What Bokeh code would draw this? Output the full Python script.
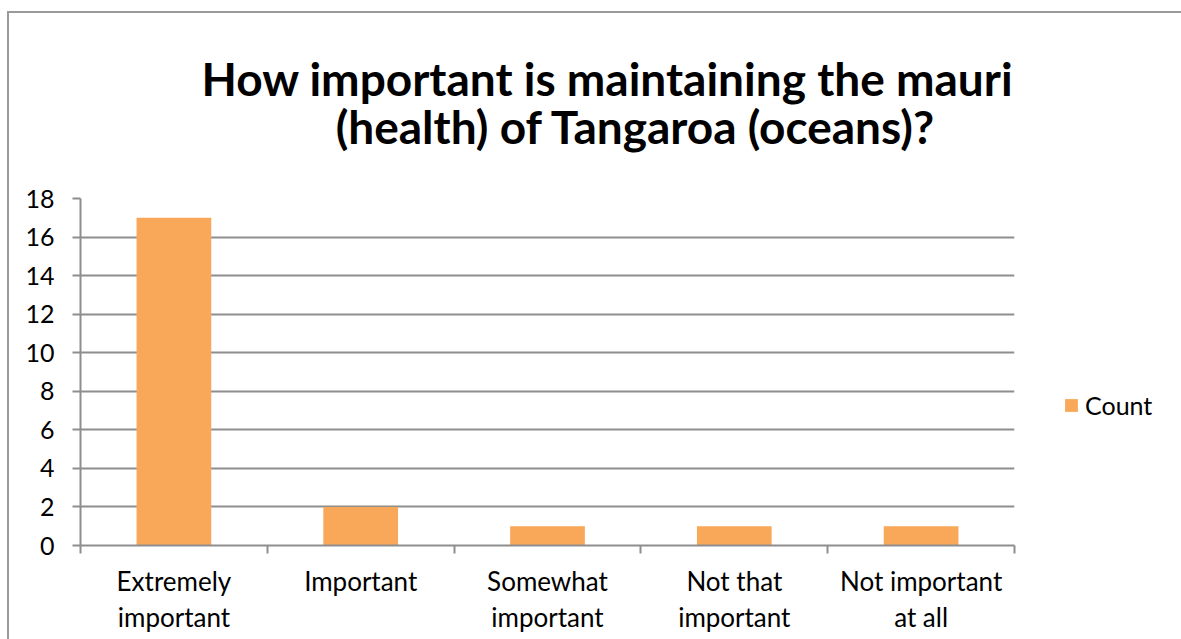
from bokeh.plotting import figure
from bokeh.models import (FactorRange, Range1d, LinearAxis, CategoricalAxis,
                          FixedTicker, Legend, LegendItem, Title)
from bokeh.embed import file_html
from bokeh.resources import INLINE

# ---- data ----
categories = ["Extremely\nimportant", "Important", "Somewhat\nimportant",
              "Not that\nimportant", "Not important\nat all"]
counts = [17, 2, 1, 1, 1]
series_name = "Count"
y_ticks = [0, 2, 4, 6, 8, 10, 12, 14, 16, 18]
title_lines = ["How important is maintaining the mauri", "(health) of Tangaroa (oceans)?"]

# ---- style ----
FONT = "Lato"
GRAY = "#8e8e8e"
BAR = "#F9A85A"

p = figure(frame_width=934, frame_height=347,
           x_range=FactorRange(*categories), y_range=Range1d(y_ticks[0], y_ticks[-1]),
           output_backend="svg", toolbar_location=None,
           x_axis_location=None,
           min_border_left=80, min_border_right=167, min_border_top=198, min_border_bottom=94)
p.outline_line_color = None
p.background_fill_color = "white"
p.border_fill_color = None
p.xgrid.visible = False
# chart-area border (left and top edges) drawn as layered inset shadows
p.styles = {"box-shadow": "inset 7px 11px 0 0 #ffffff, inset 9px 13px 0 0 #9a9a9a"}

# title: two lines, second one indented (non-breaking spaces) so both appear centred
title_text = title_lines[0] + "\n" + "\u00a0" * 12 + title_lines[1]
p.title = Title(text=title_text, align="left", offset=121,
                text_font=FONT, text_font_size="46px", text_font_style="bold",
                text_color="black", text_line_height=0.89, standoff=88)

# y axis
ya = p.yaxis[0]
ya.ticker = FixedTicker(ticks=y_ticks)
ya.axis_line_color = GRAY
ya.axis_line_width = 2
ya.major_tick_line_color = GRAY
ya.major_tick_line_width = 2
ya.major_tick_out = 8
ya.major_tick_in = 0
ya.minor_tick_line_color = None
ya.major_label_text_font = FONT
ya.major_label_text_font_size = "25px"
ya.major_label_text_color = "black"
ya.major_label_standoff = 18

p.ygrid.grid_line_color = GRAY
p.ygrid.grid_line_width = 2
p.ygrid.ticker = FixedTicker(ticks=y_ticks)

# x axis: tick marks at category boundaries (synthetic coords) + category labels
bounds = list(range(len(categories) + 1))
bound_axis = LinearAxis(ticker=FixedTicker(ticks=bounds),
                        major_label_overrides={b: "" for b in bounds},
                        major_label_standoff=0,
                        minor_tick_line_color=None, major_tick_out=8, major_tick_in=0,
                        axis_line_color=GRAY, axis_line_width=2,
                        major_tick_line_color=GRAY, major_tick_line_width=2)
p.add_layout(bound_axis, "below")

cat_axis = CategoricalAxis(axis_line_color=None, major_tick_line_color=None,
                           minor_tick_line_color=None,
                           major_label_text_font=FONT, major_label_text_font_size="26px",
                           major_label_text_color="black", major_label_standoff=5,
                           major_label_text_line_height=1.15)
p.add_layout(cat_axis, "below")

bars = p.vbar(x=categories, top=counts, width=0.4, fill_color=BAR, line_color=None)

legend = Legend(items=[LegendItem(label=series_name, renderers=[bars])],
                location=(49, 125), padding=0, margin=0, spacing=0,
                glyph_width=16, glyph_height=16, label_standoff=6,
                label_text_font=FONT, label_text_font_size="25px", label_text_color="black",
                border_line_color=None, background_fill_alpha=0)
p.add_layout(legend, "right")

open("out.html", "w").write(file_html(p, INLINE))
